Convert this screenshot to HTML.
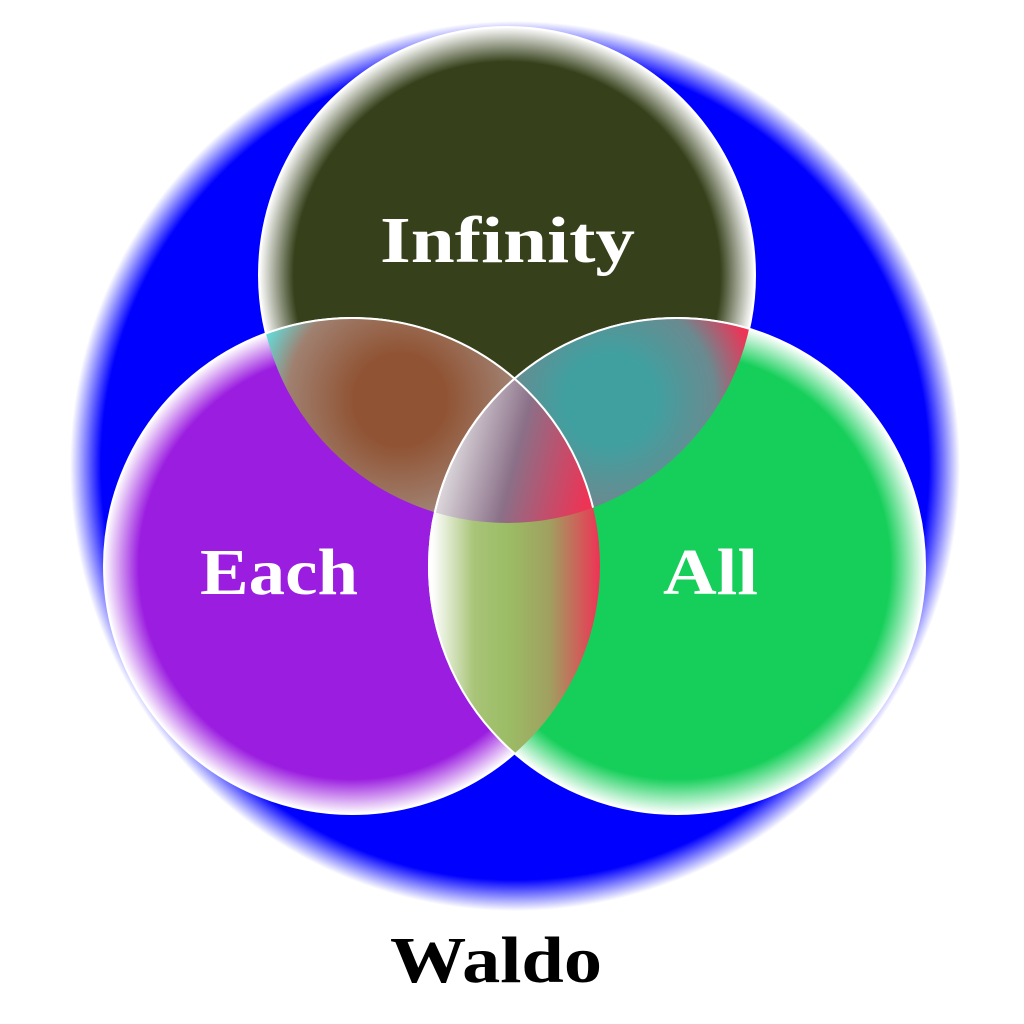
<!DOCTYPE html>
<html><head><style>html,body{margin:0;padding:0;background:#fff;}svg{display:block}</style></head>
<body>
<svg width="1024" height="1024" viewBox="0 0 1024 1024" xmlns="http://www.w3.org/2000/svg">
<defs>
<radialGradient id="gb" cx="515" cy="466" r="445" gradientUnits="userSpaceOnUse">
<stop offset="0.93" stop-color="#0000ff"/><stop offset="1" stop-color="#ffffff"/></radialGradient>
<radialGradient id="gt" cx="507" cy="275" r="248" gradientUnits="userSpaceOnUse">
<stop offset="0.86" stop-color="#36411b"/><stop offset="1" stop-color="#ffffff"/></radialGradient>
<radialGradient id="gl" cx="352" cy="566" r="248" gradientUnits="userSpaceOnUse">
<stop offset="0.86" stop-color="#9b1ee0"/><stop offset="1" stop-color="#ffffff"/></radialGradient>
<radialGradient id="gr" cx="677" cy="566" r="248" gradientUnits="userSpaceOnUse">
<stop offset="0.86" stop-color="#16cf5a"/><stop offset="1" stop-color="#ffffff"/></radialGradient>
<clipPath id="ct"><circle cx="507" cy="275" r="248"/></clipPath>
<clipPath id="cl"><circle cx="352" cy="566" r="248"/></clipPath>
<clipPath id="cr"><circle cx="677" cy="566" r="248"/></clipPath>
<radialGradient id="itl" cx="400" cy="400" r="150" gradientUnits="userSpaceOnUse">
<stop offset="0.3" stop-color="#905333"/><stop offset="0.75" stop-color="#a08070"/><stop offset="1" stop-color="#60e0e0"/></radialGradient>
<radialGradient id="itr" cx="610" cy="400" r="150" gradientUnits="userSpaceOnUse">
<stop offset="0.3" stop-color="#40a0a0"/><stop offset="0.7" stop-color="#6a8a90"/><stop offset="1" stop-color="#ee3355"/></radialGradient>
<linearGradient id="ilr" x1="432" y1="0" x2="600" y2="0" gradientUnits="userSpaceOnUse">
<stop offset="0" stop-color="#ffffff"/><stop offset="0.25" stop-color="#a8c478"/><stop offset="0.45" stop-color="#9bbd65"/><stop offset="0.7" stop-color="#a0a060"/><stop offset="1" stop-color="#ee3355"/></linearGradient>
<linearGradient id="ic" x1="440" y1="430" x2="595" y2="470" gradientUnits="userSpaceOnUse">
<stop offset="0" stop-color="#f0f0f0"/><stop offset="0.5" stop-color="#8a7088"/><stop offset="1" stop-color="#ee3355"/></linearGradient>
</defs>
<circle cx="515" cy="466" r="445" fill="url(#gb)"/>
<circle cx="507" cy="275" r="248" fill="url(#gt)" stroke="#fff" stroke-width="2"/>
<circle cx="352" cy="566" r="248" fill="url(#gl)" stroke="#fff" stroke-width="2"/>
<circle cx="677" cy="566" r="248" fill="url(#gr)" stroke="#fff" stroke-width="2"/>
<g clip-path="url(#ct)"><circle cx="352" cy="566" r="248" fill="url(#itl)"/></g>
<g clip-path="url(#ct)"><circle cx="677" cy="566" r="248" fill="url(#itr)"/></g>
<g clip-path="url(#cl)"><circle cx="677" cy="566" r="248" fill="url(#ilr)"/></g>
<g clip-path="url(#ct)"><g clip-path="url(#cl)"><circle cx="677" cy="566" r="248" fill="url(#ic)"/></g></g>
<g fill="none" stroke="#fff" stroke-width="2">
<g clip-path="url(#ct)"><circle cx="352" cy="566" r="248"/><circle cx="677" cy="566" r="248"/></g>
<g clip-path="url(#cl)"><circle cx="677" cy="566" r="248"/></g>
</g>
<g font-family="'Liberation Serif', serif" font-weight="bold" font-size="66">
<text x="380" y="262" fill="#fff" textLength="255" lengthAdjust="spacingAndGlyphs">Infinity</text>
<text x="200" y="594" fill="#fff" textLength="158" lengthAdjust="spacingAndGlyphs">Each</text>
<text x="663" y="594" fill="#fff" textLength="95" lengthAdjust="spacingAndGlyphs">All</text>
<text x="390" y="982" fill="#000" textLength="212" lengthAdjust="spacingAndGlyphs">Waldo</text>
</g>
</svg>
</body></html>
